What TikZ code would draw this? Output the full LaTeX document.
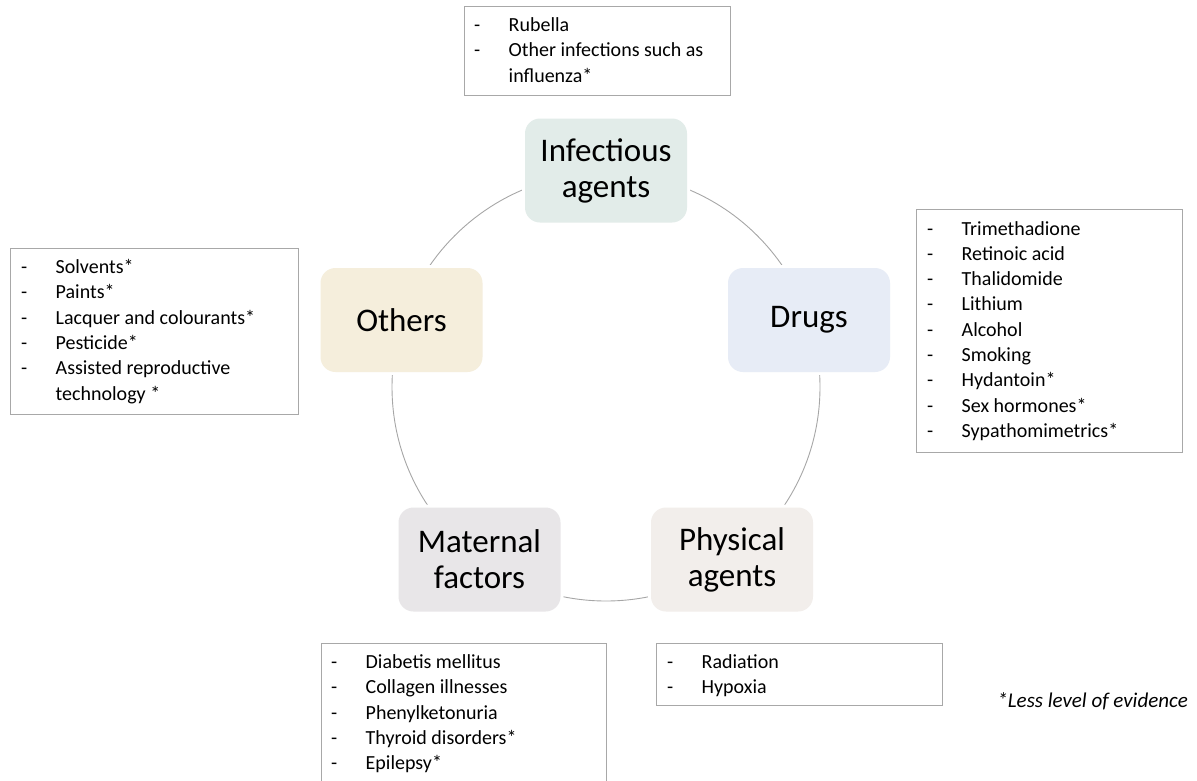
\documentclass[tikz,border=0pt]{standalone}
\usepackage{fontspec}
\setmainfont{Carlito}
\usetikzlibrary{calc}

\definecolor{infc}{HTML}{E2ECE9}
\definecolor{drugc}{HTML}{E7ECF6}
\definecolor{othc}{HTML}{F5EEDC}
\definecolor{matc}{HTML}{E8E6E8}
\definecolor{physc}{HTML}{F2EEEB}
\definecolor{ringgray}{HTML}{A6A6A6}
\definecolor{boxgray}{HTML}{A8A8A8}

% one list entry with a leading dash, and a wrapped continuation line
\newcommand\li[1]{\makebox[34.5pt][l]{-}#1\par}
\newcommand\lc[1]{\hspace*{34.5pt}#1\par}

\tikzset{
  hub/.style={rounded corners=15pt, minimum width=162pt, minimum height=104pt,
    inner sep=0pt, align=center, font=\fontsize{33}{36}\selectfont,
    preaction={draw=white, line width=6pt}},
  listbox/.style={draw=boxgray, line width=0.9pt, anchor=north west, inner sep=0pt},
  listtext/.style={anchor=base west, inner sep=0pt, font=\fontsize{20}{25.3}\selectfont},
  ring/.style={circle, draw=ringgray, line width=0.9pt, inner sep=0pt, minimum size=428pt}
}

\begin{document}
\begin{tikzpicture}[x=1pt,y=-1pt]
\useasboundingbox (0,0) rectangle (1197,780);

% the ring joining the five groups
\node[ring] (ringc) at (606,387) {};

% the five groups of causes
\node[hub, fill=infc]  (inf)  at (606,170.5) {Infectious\\agents};
\node[hub, fill=drugc] (drug) at (809,320)   {Drugs};
\node[hub, fill=physc] (phys) at (732,559.5) {Physical\\agents};
\node[hub, fill=matc]  (mat)  at (479.5,559.5) {Maternal\\factors};
\node[hub, fill=othc]  (oth)  at (401.5,320) {Others};

% lists of examples
\node[listbox, minimum width=266pt, minimum height=89pt] (infL) at (464,6) {};
\node[listtext] (infT) at ($(infL.north west)+(10,25.5)$) {\parbox[t]{250pt}{%
  \li{Rubella}\li{Other infections such as}\lc{influenza*}}};

\node[listbox, minimum width=266pt, minimum height=243pt] (drugL) at (916,209) {};
\node[listtext] (drugT) at ($(drugL.north west)+(11,26)$) {\parbox[t]{250pt}{%
  \li{Trimethadione}\li{Retinoic acid}\li{Thalidomide}\li{Lithium}\li{Alcohol}%
  \li{Smoking}\li{Hydantoin*}\li{Sex hormones*}\li{Sypathomimetrics*}}};

\node[listbox, minimum width=288pt, minimum height=166pt] (othL) at (10,248) {};
\node[listtext] (othT) at ($(othL.north west)+(11,25.5)$) {\parbox[t]{270pt}{%
  \li{Solvents*}\li{Paints*}\li{Lacquer and colourants*}\li{Pesticide*}%
  \li{Assisted reproductive}\lc{technology *}}};

\node[listbox, minimum width=285pt, minimum height=160pt] (matL) at (321,643) {};
\node[listtext] (matT) at ($(matL.north west)+(10,25.5)$) {\parbox[t]{270pt}{%
  \li{Diabetis mellitus}\li{Collagen illnesses}\li{Phenylketonuria}%
  \li{Thyroid disorders*}\li{Epilepsy*}}};

\node[listbox, minimum width=286pt, minimum height=62pt] (physL) at (656,643) {};
\node[listtext] (physT) at ($(physL.north west)+(11,25.5)$) {\parbox[t]{270pt}{%
  \li{Radiation}\li{Hypoxia}}};

% footnote
\node[anchor=base east, inner sep=0pt, font=\fontsize{21}{25}\selectfont\itshape]
  (note) at (1188,707) {*Less level of evidence};
\end{tikzpicture}
\end{document}
